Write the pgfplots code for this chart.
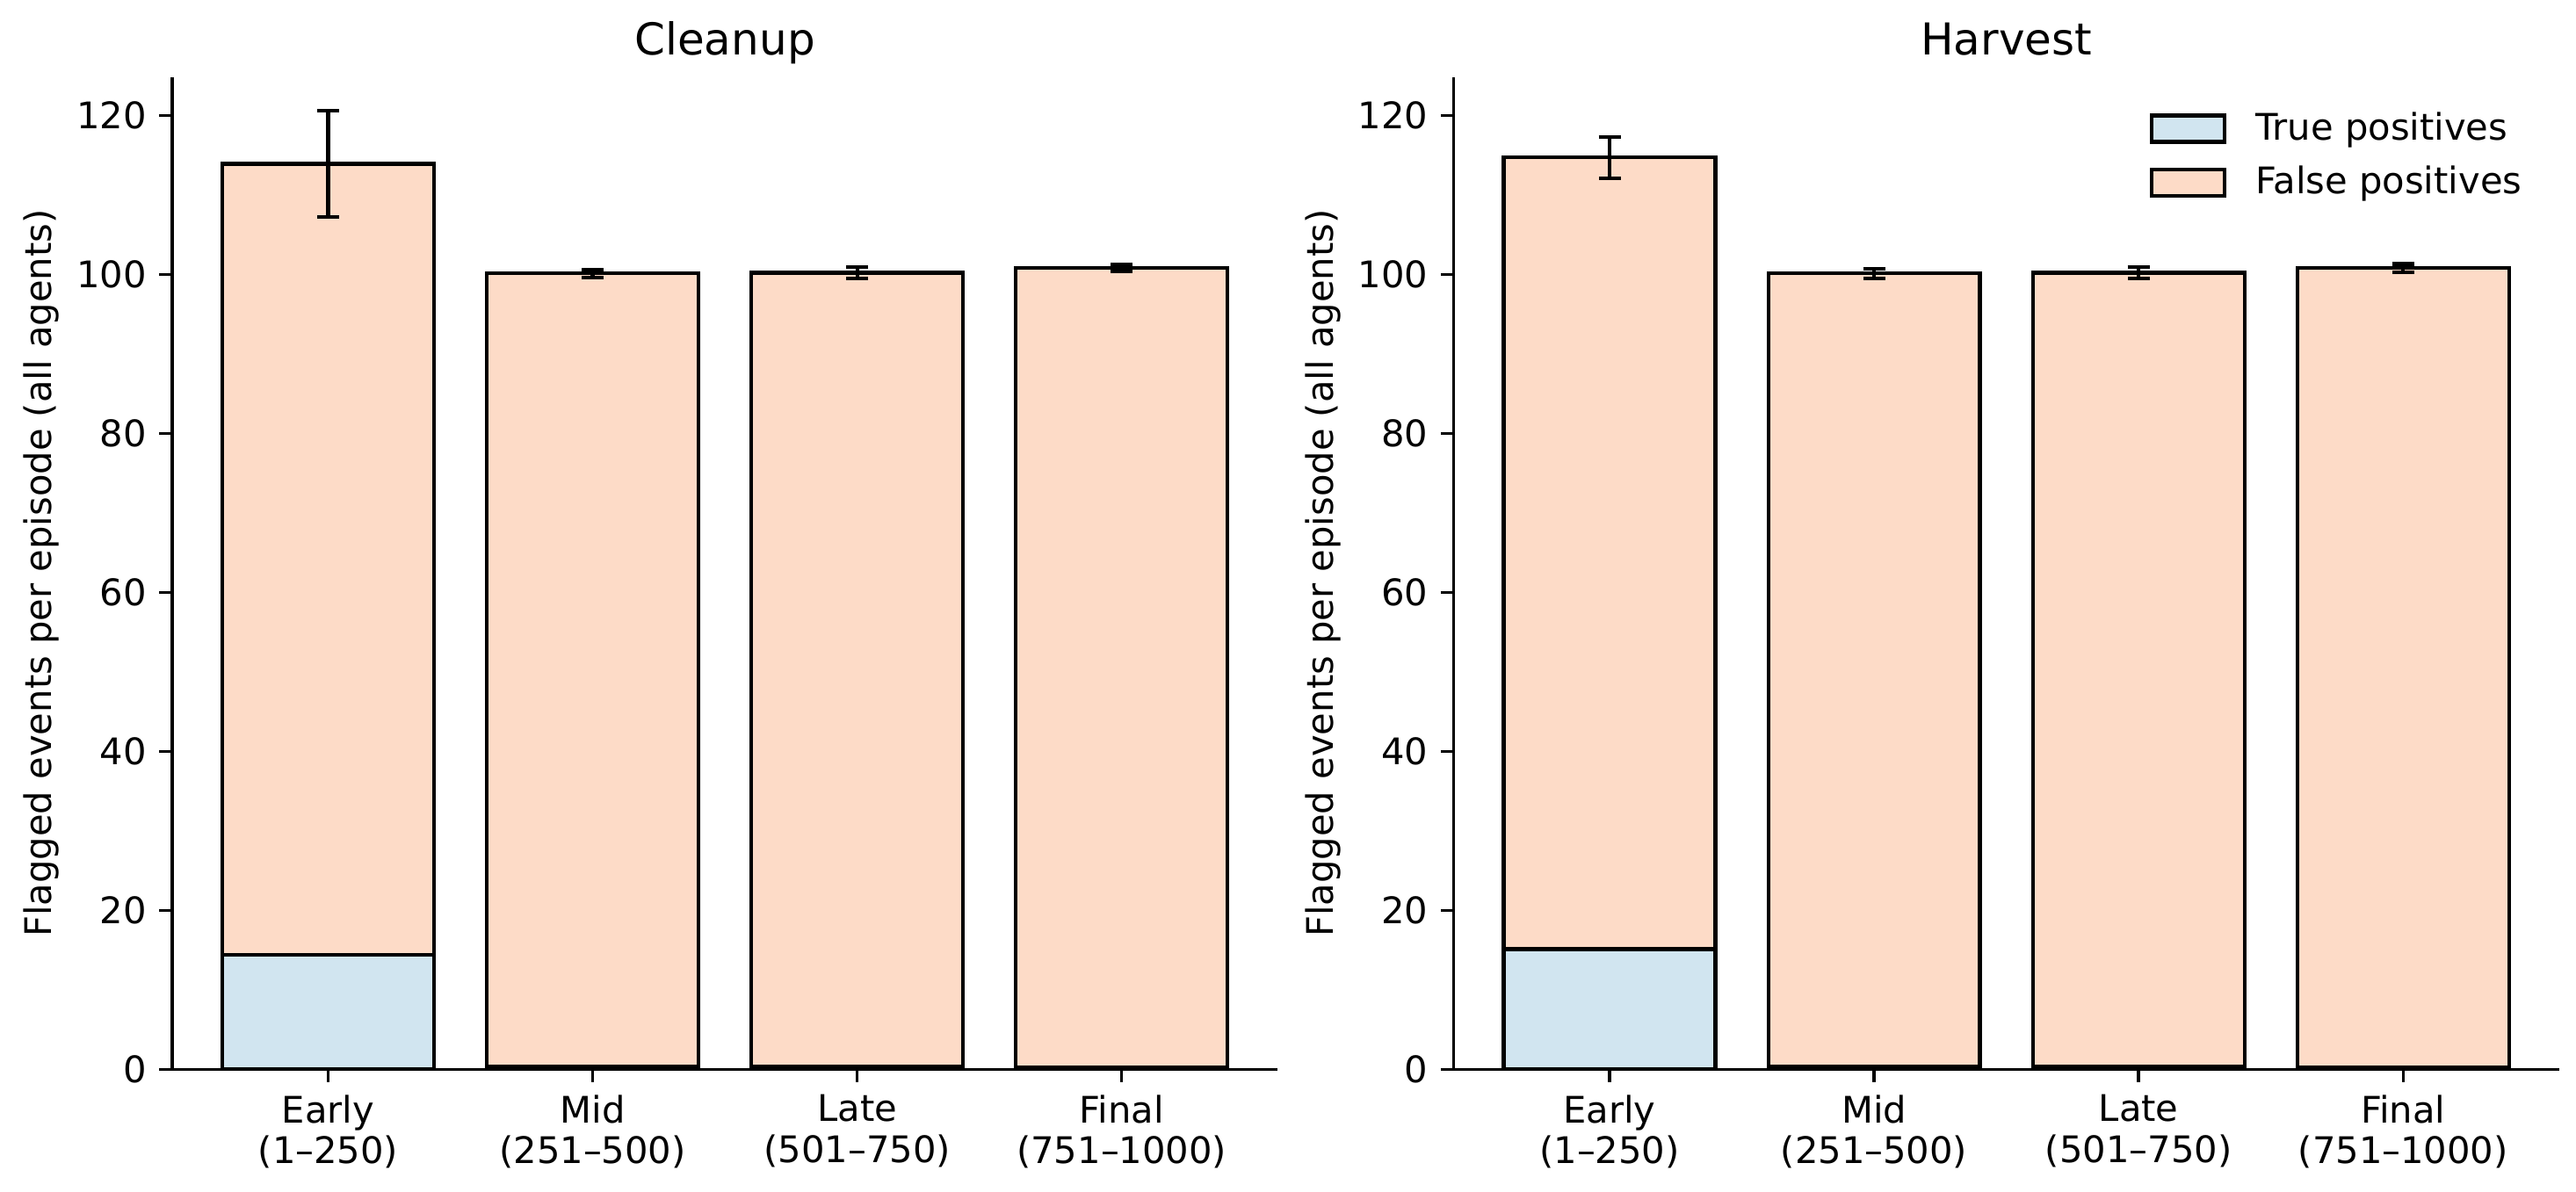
\documentclass[border=0pt]{standalone}
\usepackage{fontspec}
\setmainfont{DejaVu Sans}
\usepackage{pgfplots}
\pgfplotsset{compat=1.18}
\definecolor{tpcol}{HTML}{D1E5F0}
\definecolor{fpcol}{HTML}{FDDBC7}
\pgfplotsset{
  panel/.style={
    scale only axis,
    width=302pt, height=271pt,
    axis lines=left,
    axis line style={-, line width=0.8pt, black},
    ymin=0, ymax=124.8,
    xmin=-0.59, xmax=3.59,
    ytick={0,20,...,120},
    xtick={0,1,2,3},
    xticklabels={{Early\\(1–250)},{Mid\\(251–500)},{Late\\(501–750)},{Final\\(751–1000)}},
    xticklabel style={align=center, font=\fontsize{10}{11.2}\selectfont},
    yticklabel style={font=\fontsize{10}{12}\selectfont},
    /pgf/number format/assume math mode=true,
    tick align=outside,
    major tick length=3.5pt,
    tick style={black, line width=0.8pt},
    ybar, bar width=0.8, bar shift=0pt,
    ylabel={Flagged events per episode (all agents)},
    ylabel style={font=\fontsize{10}{12}\selectfont},
    ylabel shift=-2.2pt,
    title style={font=\fontsize{12}{14}\selectfont, at={(0.5,1)}, anchor=base, yshift=0pt},
    clip=false,
  },
  barstyle/.style={draw=black, line width=1pt, fill=#1},
  errstyle/.style={forget plot, sharp plot, draw=none, mark=none,
    error bars/.cd, y dir=both, y explicit,
    error bar style={draw=black, line width=1pt},
    error mark options={draw=black, mark size=3pt, rotate=90, line width=1pt}},
}
\begin{document}
\begin{tikzpicture}
\begin{axis}[panel, title={Cleanup}]
  % total (false + true positives)
  \addplot[barstyle=fpcol, forget plot] coordinates {(0,113.9) (1,100.1) (2,100.2) (3,100.8)};
  % true positives
  \addplot[barstyle=tpcol, forget plot] coordinates {(0,14.4) (1,0.3) (2,0.3) (3,0.2)};
  \addplot[errstyle] coordinates {(0,113.9) +- (0,6.7) (1,100.1) +- (0,0.5) (2,100.2) +- (0,0.7) (3,100.8) +- (0,0.4)};
\end{axis}
\begin{axis}[panel, title={Harvest}, xshift=350pt,
  legend style={at={(axis description cs:1,1)}, anchor=north east, draw=none, fill=none,
    font=\fontsize{10}{12}\selectfont, row sep=1.6pt, xshift=-5pt, yshift=-5.3pt,
    /tikz/every even column/.append style={column sep=0pt}},
  legend cell align=left,
  legend image code/.code={\draw[#1, line width=1pt] (0pt,-3.6pt) rectangle (20pt,3.6pt); \path (26.2pt,0pt);},
]
  \addlegendimage{draw=black, fill=tpcol}
  \addlegendentry{True positives}
  \addlegendimage{draw=black, fill=fpcol}
  \addlegendentry{False positives}
  \addplot[barstyle=fpcol, forget plot] coordinates {(0,114.7) (1,100.1) (2,100.2) (3,100.8)};
  \addplot[barstyle=tpcol, forget plot] coordinates {(0,15.1) (1,0.3) (2,0.3) (3,0.2)};
  \addplot[errstyle] coordinates {(0,114.7) +- (0,2.6) (1,100.1) +- (0,0.6) (2,100.2) +- (0,0.7) (3,100.8) +- (0,0.5)};
\end{axis}
\pgfresetboundingbox
\path[use as bounding box] (-47.0pt,-33.4pt) rectangle (656.6pt,292.1pt);
\end{tikzpicture}
\end{document}
